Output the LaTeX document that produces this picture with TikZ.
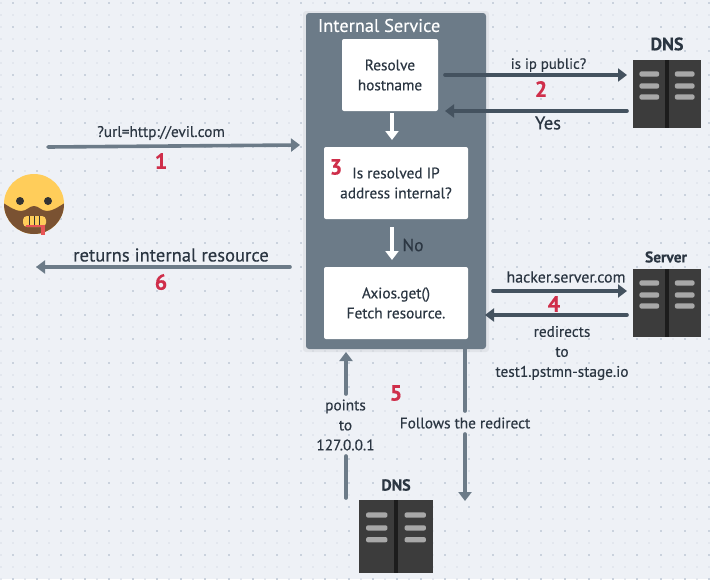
\documentclass[tikz,border=0pt]{standalone}
\usepackage{fontspec}
\setmainfont{PT Sans}[RawFeature={embolden=0.35}]
\usetikzlibrary{arrows.meta}
\definecolor{bgc}{HTML}{EEF1F6}
\definecolor{dotA}{HTML}{CAD2DD}
\definecolor{dotB}{HTML}{E3E7EE}
\definecolor{panelc}{HTML}{6C7B88}
\definecolor{inkc}{HTML}{2B3642}
\definecolor{darkarrow}{HTML}{44525F}
\definecolor{redc}{HTML}{CF2E4A}
\definecolor{srvc}{HTML}{3C3C3C}
\definecolor{srvbar}{HTML}{1C1C1C}
\definecolor{srvled}{HTML}{A8A8A8}
\definecolor{facec}{RGB}{255,205,90}
\definecolor{beardc}{RGB}{122,82,50}
\definecolor{bloodc}{RGB}{232,85,85}
\tikzset{
  every node/.style={inner sep=0pt,outer sep=0pt,text=inkc,align=center},
  box/.style={draw=none,fill=white,rounded corners=2pt,minimum height=72pt},
  lbl/.style={font=\fontsize{15.3}{20}\selectfont},
  lblbig/.style={font=\fontsize{17.5}{20}\selectfont},
  num/.style={font=\fontsize{22}{22}\selectfont\bfseries,text=redc},
  grayarrow/.style={line width=3.6pt,draw=panelc,line cap=round,-{Triangle[length=9pt,width=13pt]}},
  darkline/.style={line width=3.6pt,draw=darkarrow,line cap=round,-{Triangle[length=9pt,width=13pt]}},
  whitearrow/.style={line width=3.6pt,draw=white,-{Triangle[length=9pt,width=13pt]}},
  plainline/.style={line width=3.6pt,draw=panelc,line cap=round},
}
\newcommand{\serverrack}[4]{% x0, y0, x1, y1
  \fill[srvc] (#1,#2) rectangle (#3,#4);
  \pgfmathsetmacro{\rackcx}{(#1+#3)/2}
  \pgfmathsetmacro{\rackw}{#3-#1}
  \fill[srvbar] (\rackcx-1.7,#2) rectangle (\rackcx+1.7,#4);
  \foreach \yy in {14,26,37}{
    \pgfmathsetmacro{\racky}{#2+\yy*(#4-#2)/68}
    \fill[srvled,rounded corners=2pt] (#1+0.095*\rackw,\racky-2.6) rectangle (#1+0.385*\rackw,\racky+2.6);
    \fill[srvled,rounded corners=2pt] (#1+0.615*\rackw,\racky-2.6) rectangle (#1+0.905*\rackw,\racky+2.6);
  }
}
\begin{document}
\begin{tikzpicture}[x=1pt,y=-1pt]
\useasboundingbox (0,0) rectangle (710,579);
\fill[bgc] (0,0) rectangle (710,579);
% dot grid
\foreach \i in {0,...,59}{
  \foreach \j in {0,...,48}{
    \pgfmathsetmacro{\px}{1+12*\i}
    \pgfmathsetmacro{\py}{3+12*\j}
    \pgfmathtruncatemacro{\strong}{(mod(\i,2)==1 && mod(\j,2)==0) ? 1 : 0}
    \ifnum\strong=1
      \fill[dotA] (\px-1,\py-1) rectangle (\px+1,\py+1);
    \else
      \fill[dotB] (\px-1,\py-1) rectangle (\px+1,\py+1);
    \fi
  }
}
% panel
\fill[black,opacity=0.05,rounded corners=3pt] (303,11) rectangle (489,352);
\node[fill=panelc,rounded corners=3pt,minimum width=180pt,minimum height=336pt] (panel) at (396,181) {};
\node[font=\fontsize{18.3}{20}\selectfont,text=white,anchor=west] (paneltitle) at (318,25.5) {Internal Service};
% boxes
\node[box,minimum width=96pt,lbl] (resolve) at (390,75) {Resolve\\hostname};
\node[box,minimum width=144pt,lbl] (internal) at (396,183) {Is resolved IP\\address internal?};
\node[box,minimum width=144pt,lbl] (fetch) at (396,303) {Axios.get()\\Fetch resource.};
\node[num] (n3) at (336,167) {3};
\node[lblbig] (no) at (413,245) {No};
\coordinate (w1a) at (392,113);
\coordinate (w1b) at (392,140);
\coordinate (w2a) at (392,227);
\coordinate (w2b) at (392,260);
\draw[whitearrow] (w1a) -- (w1b);
\draw[whitearrow] (w2a) -- (w2b);
% servers
\serverrack{633}{60}{701}{128}
\serverrack{633}{269}{701}{337}
\serverrack{359}{500}{433}{573}
\node[font=\fontsize{18}{20}\selectfont\bfseries] (dnsAt) at (667,44) {DNS};
\node[font=\fontsize{15.4}{18}\selectfont\bfseries] (srvBt) at (666,257) {Server};
\node[font=\fontsize{16}{18}\selectfont\bfseries] (dnsCt) at (396,485) {DNS};
% user
\fill[facec] (34,204) circle (30);
\begin{scope}
  \clip (34,204) circle (30);
  \fill[beardc] (0,201) .. controls (10,207) and (15,211) .. (21,211) .. controls (27,211) and (29,206) .. (34,206) .. controls (39,206) and (41,211) .. (47,211) .. controls (53,211) and (58,207) .. (68,201) -- (68,240) -- (0,240) -- cycle;
\end{scope}
\fill[black!80] (20,201) circle (4);
\fill[black!80] (48,201) circle (4);
\fill[facec,rounded corners=4pt] (23,216) rectangle (46,227);
\fill[black!80] (28.5,216) rectangle (30,225);
\fill[black!80] (33.5,216) rectangle (35,225);
\fill[black!80] (38.5,216) rectangle (40,225);
\draw[line width=2pt,draw=bloodc] (26,226) -- (43,226);
\draw[line width=4pt,draw=bloodc] (43,225) -- (43,235);
% arrows
\coordinate (a1s) at (48,147);
\coordinate (a1e) at (300,145);
\draw[grayarrow] (a1s) -- (a1e);
\node[lbl] (l1) at (161,133) {?url=http://evil.com};
\node[num] (n1) at (161,161) {1};
\coordinate (a6s) at (290,267);
\coordinate (a6e) at (36,267);
\draw[grayarrow] (a6s) -- (a6e);
\node[font=\fontsize{18.6}{20}\selectfont] (l6) at (171,255) {returns internal resource};
\node[num] (n6) at (161,282) {6};
\coordinate (a2s) at (445,75);
\coordinate (a2e) at (627,75);
\draw[darkline] (a2s) -- (a2e);
\node[font=\fontsize{14.8}{20}\selectfont] (l2) at (548.5,65) {is ip public?};
\node[num] (n2) at (541,89) {2};
\coordinate (yb) at (627,111);
\coordinate (ya) at (445,111);
\draw[darkline] (yb) -- (ya);
\node[font=\fontsize{18.5}{20}\selectfont] (lyes) at (548,123) {Yes};
\coordinate (a4s) at (493,291);
\coordinate (a4e) at (627,291);
\draw[darkline] (a4s) -- (a4e);
\node[font=\fontsize{15.9}{20}\selectfont] (l4) at (566,277) {hacker.server.com};
\node[num] (n4) at (554,304) {4};
\coordinate (rb) at (627,315);
\coordinate (ra) at (485,315);
\draw[darkline] (rb) -- (ra);
\node[lbl] (lr) at (562,353) {redirects\\to\\test1.pstmn-stage.io};
\coordinate (p1) at (346,498);
\coordinate (p2) at (346,456);
\coordinate (p3) at (346,394);
\coordinate (p4) at (346,352);
\draw[plainline] (p1) -- (p2);
\draw[grayarrow] (p3) -- (p4);
\node[lbl] (lp) at (345.5,425) {points\\to\\127.0.0.1};
\coordinate (f1) at (465,349);
\coordinate (f2) at (465,411);
\coordinate (f3) at (465,434);
\coordinate (f4) at (465,501);
\draw[plainline] (f1) -- (f2);
\draw[grayarrow] (f3) -- (f4);
\node[lbl] (lf) at (465,423) {Follows the redirect};
\node[num] (n5) at (396,393) {5};
\end{tikzpicture}
\end{document}
